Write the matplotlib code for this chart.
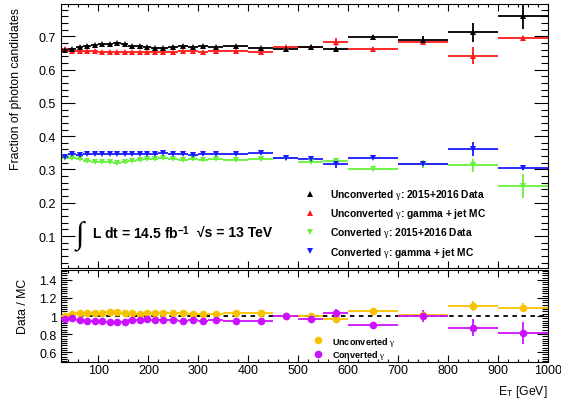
import matplotlib
matplotlib.use('Agg')
import numpy as np
import matplotlib.pyplot as plt
from matplotlib.ticker import MultipleLocator, FixedLocator, FixedFormatter
from matplotlib.lines import Line2D

plt.rcParams['font.family'] = ['Liberation Sans', 'DejaVu Sans']
plt.rcParams['mathtext.fontset'] = 'custom'
plt.rcParams['mathtext.rm'] = 'Liberation Serif'
plt.rcParams['mathtext.it'] = 'Liberation Serif:italic'
plt.rcParams['mathtext.bf'] = 'Liberation Sans:bold'

# E_T bin edges [GeV]
edges = [25, 40, 55, 70, 85, 100, 115, 130, 145, 160, 175, 190, 205, 220,
         240, 260, 280, 300, 320, 350, 400, 450, 500, 550, 600, 700, 800, 900, 1000]

unconv_data = [0.660, 0.662, 0.667, 0.672, 0.675, 0.676, 0.678, 0.679, 0.676, 0.672,
               0.670, 0.668, 0.666, 0.664, 0.668, 0.670, 0.668, 0.670, 0.668, 0.670,
               0.664, 0.662, 0.668, 0.662, 0.699, 0.690, 0.712, 0.760]
unconv_data_err = [0.004, 0.003, 0.003, 0.003, 0.003, 0.003, 0.003, 0.003, 0.003, 0.003,
                   0.003, 0.003, 0.003, 0.003, 0.003, 0.003, 0.003, 0.003, 0.003, 0.003,
                   0.004, 0.005, 0.006, 0.007, 0.006, 0.012, 0.028, 0.037]
unconv_mc = [0.662, 0.655, 0.656, 0.655, 0.655, 0.654, 0.654, 0.654, 0.654, 0.654,
             0.653, 0.654, 0.653, 0.652, 0.654, 0.655, 0.656, 0.654, 0.655, 0.655,
             0.652, 0.667, 0.668, 0.684, 0.662, 0.684, 0.642, 0.695]
unconv_mc_err = [0.003, 0.002, 0.002, 0.002, 0.002, 0.002, 0.002, 0.002, 0.002, 0.002,
                 0.002, 0.002, 0.002, 0.002, 0.002, 0.002, 0.002, 0.002, 0.002, 0.003,
                 0.004, 0.005, 0.005, 0.012, 0.005, 0.006, 0.025, 0.006]

conv_data = [0.335, 0.335, 0.330, 0.326, 0.323, 0.322, 0.321, 0.320, 0.322, 0.326,
             0.328, 0.330, 0.332, 0.334, 0.330, 0.328, 0.330, 0.328, 0.330, 0.328,
             0.330, 0.335, 0.322, 0.325, 0.300, 0.315, 0.312, 0.250]
conv_data_err = unconv_data_err[:26] + [0.020, 0.035]
conv_mc = [0.338, 0.345, 0.344, 0.345, 0.345, 0.346, 0.346, 0.346, 0.346, 0.346,
           0.347, 0.346, 0.347, 0.348, 0.346, 0.345, 0.344, 0.346, 0.345, 0.345,
           0.350, 0.333, 0.330, 0.317, 0.335, 0.315, 0.360, 0.305]
conv_mc_err = unconv_mc_err[:26] + [0.021, 0.006]

ratio_unconv = [1.000, 1.020, 1.030, 1.035, 1.037, 1.037, 1.045, 1.045, 1.037, 1.030,
                1.026, 1.030, 1.030, 1.037, 1.037, 1.030, 1.026, 1.026, 1.026, 1.030,
                1.030, 1.000, 1.000, 0.970, 1.056, 1.006, 1.110, 1.094]
ratio_unconv_err = [0.007, 0.005, 0.005, 0.005, 0.005, 0.005, 0.005, 0.005, 0.005, 0.005,
                    0.005, 0.005, 0.005, 0.005, 0.005, 0.005, 0.005, 0.005, 0.005, 0.006,
                    0.007, 0.009, 0.012, 0.020, 0.012, 0.035, 0.056, 0.048]
ratio_conv = [0.963, 0.974, 0.952, 0.940, 0.940, 0.940, 0.937, 0.933, 0.937, 0.952,
              0.955, 0.963, 0.952, 0.955, 0.952, 0.944, 0.955, 0.948, 0.952, 0.944,
              0.944, 1.000, 0.970, 1.030, 0.896, 1.000, 0.870, 0.815]
ratio_conv_err = [0.012, 0.010, 0.010, 0.010, 0.010, 0.010, 0.010, 0.010, 0.010, 0.010,
                  0.010, 0.010, 0.010, 0.010, 0.010, 0.010, 0.010, 0.010, 0.011, 0.012,
                  0.014, 0.018, 0.022, 0.050, 0.022, 0.065, 0.097, 0.120]

e = np.array(edges, dtype=float)
x = 0.5 * (e[1:] + e[:-1])
xw = 0.5 * (e[1:] - e[:-1])

c_black = 'black'
c_red = '#ff1a1a'
c_green = '#66f23a'
c_blue = '#1a1aff'
c_orange = '#f7c200'
c_purple = '#cc11ff'

fig = plt.figure(figsize=(5.61, 4.06), dpi=100)
ax1 = fig.add_axes([0.1087, 0.3374, 0.868, 0.6503])
ax2 = fig.add_axes([0.1087, 0.1059, 0.868, 0.2266])

top = [
    (unconv_mc, unconv_mc_err, c_red, '^'),
    (unconv_data, unconv_data_err, c_black, '^'),
    (conv_data, conv_data_err, c_green, 'v'),
    (conv_mc, conv_mc_err, c_blue, 'v'),
]
for y, yerr, col, m in top:
    ax1.errorbar(x, y, xerr=xw, yerr=yerr, fmt=m, color=col, ms=4.5,
                 elinewidth=1.3, capsize=0, mew=0)

ax1.set_xlim(25, 1000)
ax1.set_ylim(0.004, 0.797)

ax2.axhline(1.0, color='black', lw=1.3, ls=(0, (2.5, 2.5)), zorder=1)
ax2.errorbar(x, ratio_unconv, xerr=xw, yerr=ratio_unconv_err, fmt='o', color=c_orange,
             ms=5.5, elinewidth=1.3, capsize=0, mew=0, zorder=3)
ax2.errorbar(x, ratio_conv, xerr=xw, yerr=ratio_conv_err, fmt='o', color=c_purple,
             ms=5.5, elinewidth=1.3, capsize=0, mew=0, zorder=3)
ax2.set_xlim(25, 1000)
ax2.set_ylim(0.49, 1.51)

for ax in (ax1, ax2):
    ax.xaxis.set_major_locator(MultipleLocator(100))
    ax.xaxis.set_minor_locator(MultipleLocator(20))
    ax.tick_params(which='both', direction='in', top=True, right=True,
                   width=0.8, labelsize=9, colors='black')
    ax.tick_params(axis='x', which='major', length=5, pad=1.5)
    ax.tick_params(axis='x', which='minor', length=2.5)
    for s in ax.spines.values():
        s.set_linewidth(0.8)

ax1.yaxis.set_major_locator(FixedLocator([0.1, 0.2, 0.3, 0.4, 0.5, 0.6, 0.7]))
ax1.yaxis.set_minor_locator(MultipleLocator(0.02))
ax1.tick_params(axis='y', which='major', length=10, pad=4)
ax1.tick_params(axis='y', which='minor', length=5)
ax1.tick_params(axis='x', labelbottom=False)

ax2.yaxis.set_major_locator(FixedLocator([0.6, 0.8, 1.0, 1.2, 1.4]))
ax2.yaxis.set_major_formatter(FixedFormatter(['0.6', '0.8', '1', '1.2', '1.4']))
ax2.yaxis.set_minor_locator(MultipleLocator(0.025))
ax2.tick_params(axis='y', which='major', length=8, pad=3)
ax2.tick_params(axis='y', which='minor', length=4)

# legends
h1 = [Line2D([], [], ls='none', marker='^', color=c_black, ms=4.5, mew=0),
      Line2D([], [], ls='none', marker='^', color=c_red, ms=4.5, mew=0),
      Line2D([], [], ls='none', marker='v', color=c_green, ms=4.5, mew=0),
      Line2D([], [], ls='none', marker='v', color=c_blue, ms=4.5, mew=0)]
l1 = [r'Unconverted $\mathrm{\gamma}$: 2015+2016 Data',
      r'Unconverted $\mathrm{\gamma}$: gamma + jet MC',
      r'Converted $\mathrm{\gamma}$: 2015+2016 Data',
      r'Converted $\mathrm{\gamma}$: gamma + jet MC']
leg1 = ax1.legend(h1, l1, loc='upper left', bbox_to_anchor=(300 / 561, 1 - 183 / 406),
                  bbox_transform=fig.transFigure, frameon=False, borderpad=0,
                  handlelength=1.0, handletextpad=1.4, labelspacing=0.5,
                  prop={'size': 7.4, 'weight': 'bold'})

h2 = [Line2D([], [], ls='none', marker='o', color=c_orange, ms=5.5, mew=0),
      Line2D([], [], ls='none', marker='o', color=c_purple, ms=5.5, mew=0)]
l2 = [r'Unconverted $\mathrm{\gamma}$', r'Converted $\mathrm{\gamma}$']
ax2.legend(h2, l2, loc='upper left', bbox_to_anchor=(309 / 561, 1 - 331 / 406),
           bbox_transform=fig.transFigure, frameon=False, borderpad=0,
           handlelength=1.0, handletextpad=1.0, labelspacing=0.1,
           prop={'size': 6.5, 'weight': 'bold'})

# luminosity / energy label
fig.text(74 / 561, 1 - 237 / 406, r'$\int$', fontsize=22, va='center', ha='left',
         family='DejaVu Sans')
fig.text(92 / 561, 1 - 233 / 406, r'L dt = 14.5 fb$^{\mathbf{-1}}$', fontsize=10,
         fontweight='bold', va='center', ha='left')
fig.text(197 / 561, 1 - 233 / 406, '\u221as = 13 TeV', fontsize=10,
         fontweight='bold', va='center', ha='left')

fig.text(16 / 561, 1 - 8 / 406, 'Fraction of photon candidates', rotation=90,
         ha='center', va='top', fontsize=8.8)
fig.text(23 / 561, 1 - 279 / 406, 'Data / MC', rotation=90,
         ha='center', va='top', fontsize=8.8)
fig.text(548 / 561, 1 - 392 / 406, r'E$_{\mathregular{T}}$ [GeV]',
         ha='right', va='center', fontsize=8.8)

fig.savefig('out.png', dpi=100)
